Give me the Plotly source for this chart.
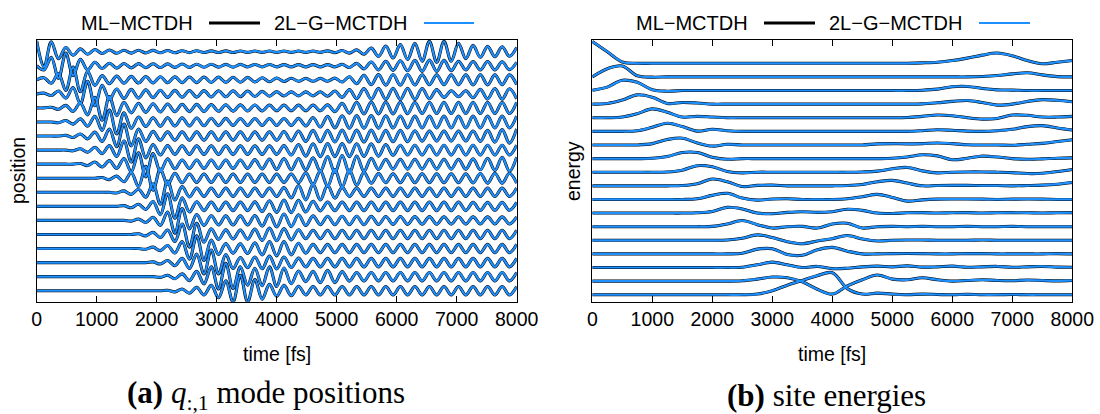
import numpy as np
import plotly.graph_objects as go

# ---------------- data ----------------
# (a) q_{:,1} mode positions: 18 traces, values in units of the line spacing,
# sampled at the oscillation extrema (every ~121 fs)
time_a = np.linspace(0, 8000, 67)
time_b = np.linspace(0, 8000, 33)

pos_00 = [0.76, -1.1, 0.7, -0.5, 0.3, -0.25, 0.2, -0.18, 0.15, -0.13,
          0.12, -0.11, 0.1, -0.1, 0.1, -0.09, 0.09, -0.08, 0.08, -0.08,
          0.07, -0.07, 0.07, -0.06, 0.06, -0.06, 0.06, -0.06, 0.05, -0.05,
          0.05, -0.05, 0.05, -0.05, 0.05, -0.05, 0.05, -0.05, 0.05, -0.05,
          0.06, -0.07, 0.08, -0.1, 0.13, -0.18, 0.25, -0.33, 0.4, -0.45,
          0.5, -0.55, 0.6, -0.68, 0.74, -0.76, 0.74, -0.68, 0.6, -0.5,
          0.45, -0.4, 0.38, -0.36, 0.35, -0.33, 0.3]
pos_01 = [0, -0.3, 0.6, -0.9, 0.9, -0.7, 0.45, -0.3, 0.25, -0.2,
          0.18, -0.17, 0.16, -0.15, 0.15, -0.14, 0.14, -0.13, 0.13, -0.12,
          0.12, -0.12, 0.11, -0.11, 0.11, -0.1, 0.1, -0.1, 0.1, -0.09,
          0.09, -0.09, 0.09, -0.08, 0.08, -0.08, 0.08, -0.08, 0.08, -0.08,
          0.08, -0.08, 0.1, -0.13, 0.17, -0.22, 0.27, -0.3, 0.32, -0.33,
          0.35, -0.36, 0.38, -0.4, 0.4, -0.4, 0.38, -0.35, 0.32, -0.3,
          0.3, -0.3, 0.3, -0.3, 0.28, -0.28, 0.25]
pos_02 = [0, 0.15, -0.25, 0.45, -0.75, 0.9, -0.85, 0.6, -0.4, 0.3,
          -0.28, 0.26, -0.25, 0.24, -0.23, 0.23, -0.22, 0.22, -0.21, 0.21,
          -0.2, 0.2, -0.2, 0.2, -0.19, 0.19, -0.18, 0.18, -0.17, 0.17,
          -0.16, 0.15, -0.14, 0.13, -0.12, 0.11, -0.1, 0.1, -0.1, 0.1,
          -0.1, 0.12, -0.16, 0.22, -0.28, 0.32, -0.35, 0.37, -0.38, 0.38,
          -0.38, 0.38, -0.37, 0.36, -0.35, 0.35, -0.35, 0.35, -0.35, 0.35,
          -0.36, 0.36, -0.36, 0.35, -0.35, 0.35, -0.34]
pos_03 = [0, 0.05, -0.12, 0.2, -0.3, 0.45, -0.7, 0.9, -0.85, 0.6,
          -0.4, 0.35, -0.33, 0.32, -0.3, 0.28, -0.27, 0.26, -0.25, 0.25,
          -0.24, 0.24, -0.23, 0.23, -0.22, 0.22, -0.21, 0.21, -0.2, 0.2,
          -0.19, 0.18, -0.17, 0.16, -0.15, 0.14, -0.14, 0.14, -0.14, 0.15,
          -0.17, 0.2, -0.25, 0.3, -0.34, 0.37, -0.38, 0.39, -0.4, 0.4,
          -0.4, 0.4, -0.4, 0.38, -0.35, 0.3, -0.25, 0.22, -0.2, 0.22,
          -0.27, 0.32, -0.36, 0.38, -0.38, 0.36, -0.35]
pos_04 = [0, 0, 0.05, -0.1, 0.18, -0.25, 0.35, -0.5, 0.75, -0.88,
          0.8, -0.55, 0.4, -0.35, 0.33, -0.32, 0.3, -0.29, 0.28, -0.27,
          0.26, -0.26, 0.25, -0.25, 0.24, -0.24, 0.23, -0.23, 0.22, -0.22,
          0.21, -0.21, 0.2, -0.2, 0.2, -0.2, 0.2, -0.2, 0.2, -0.2,
          0.22, -0.26, 0.32, -0.37, 0.4, -0.42, 0.42, -0.42, 0.42, -0.42,
          0.42, -0.41, 0.4, -0.4, 0.4, -0.4, 0.4, -0.4, 0.4, -0.4,
          0.4, -0.4, 0.4, -0.4, 0.4, -0.4, 0.4]
pos_05 = [0, 0, 0, -0.05, 0.1, -0.15, 0.22, -0.3, 0.4, -0.6,
          0.85, -0.85, 0.65, -0.45, 0.35, -0.32, 0.3, -0.3, 0.3, -0.29,
          0.29, -0.28, 0.28, -0.27, 0.27, -0.26, 0.26, -0.25, 0.25, -0.25,
          0.25, -0.25, 0.25, -0.25, 0.25, -0.25, 0.26, -0.28, 0.32, -0.36,
          0.4, -0.42, 0.44, -0.45, 0.45, -0.45, 0.45, -0.44, 0.44, -0.43,
          0.43, -0.42, 0.42, -0.42, 0.42, -0.42, 0.42, -0.42, 0.42, -0.42,
          0.42, -0.42, 0.42, -0.42, 0.42, -0.42, 0.42]
pos_06 = [0, 0, 0, 0, 0.05, -0.1, 0.15, -0.2, 0.28, -0.38,
          0.5, -0.75, 0.85, -0.7, 0.5, -0.38, 0.33, -0.3, 0.3, -0.3,
          0.3, -0.3, 0.3, -0.3, 0.3, -0.3, 0.3, -0.3, 0.3, -0.3,
          0.3, -0.3, 0.3, -0.3, 0.32, -0.34, 0.36, -0.38, 0.4, -0.4,
          0.4, -0.42, 0.42, -0.42, 0.42, -0.42, 0.42, -0.4, 0.4, -0.4,
          0.4, -0.4, 0.38, -0.36, 0.35, -0.35, 0.35, -0.35, 0.35, -0.35,
          0.36, -0.38, 0.4, -0.43, 0.46, -0.5, 0.5]
pos_07 = [0, 0, 0, 0, 0, -0.05, 0.1, -0.15, 0.2, -0.25,
          0.32, -0.45, 0.65, -0.85, 0.8, -0.55, 0.4, -0.35, 0.32, -0.3,
          0.3, -0.3, 0.3, -0.3, 0.3, -0.3, 0.3, -0.3, 0.3, -0.3,
          0.3, -0.3, 0.3, -0.3, 0.32, -0.35, 0.4, -0.43, 0.45, -0.46,
          0.46, -0.46, 0.46, -0.46, 0.45, -0.45, 0.44, -0.43, 0.4, -0.37,
          0.35, -0.35, 0.35, -0.35, 0.35, -0.35, 0.35, -0.35, 0.35, -0.35,
          0.35, -0.35, 0.35, -0.35, 0.35, -0.35, 0.35]
pos_08 = [0, 0, 0, 0, 0, 0, 0.05, -0.1, 0.15, -0.2,
          0.25, -0.3, 0.4, -0.55, 0.8, -0.9, 0.75, -0.5, 0.38, -0.33,
          0.3, -0.3, 0.3, -0.3, 0.3, -0.3, 0.3, -0.3, 0.3, -0.3,
          0.32, -0.34, 0.36, -0.38, 0.4, -0.4, 0.4, -0.42, 0.45, -0.5,
          0.55, -0.6, 0.62, -0.62, 0.58, -0.5, 0.42, -0.38, 0.35, -0.35,
          0.35, -0.35, 0.35, -0.35, 0.35, -0.35, 0.35, -0.35, 0.35, -0.36,
          0.38, -0.4, 0.42, -0.45, 0.48, -0.5, 0.5]
pos_09 = [0, 0, 0, 0, 0, 0, 0, 0, 0, 0.05,
          -0.1, 0.15, -0.25, 0.4, -0.6, 0.85, -0.85, 0.65, -0.45, 0.35,
          -0.32, 0.3, -0.3, 0.3, -0.3, 0.3, -0.3, 0.3, -0.3, 0.3,
          -0.3, 0.3, -0.3, 0.3, -0.3, 0.3, -0.32, 0.38, -0.45, 0.52,
          -0.58, 0.62, -0.62, 0.58, -0.5, 0.42, -0.36, 0.33, -0.32, 0.32,
          -0.32, 0.32, -0.32, 0.32, -0.32, 0.32, -0.32, 0.32, -0.32, 0.32,
          -0.33, 0.34, -0.35, 0.35, -0.35, 0.35, -0.35]
pos_10 = [0, 0, 0, 0, 0, 0, 0, 0, 0, 0,
          0, -0.05, 0.1, -0.15, 0.22, -0.35, 0.6, -0.85, 0.8, -0.55,
          0.4, -0.33, 0.3, -0.3, 0.3, -0.3, 0.3, -0.3, 0.3, -0.3,
          0.3, -0.3, 0.3, -0.3, 0.33, -0.4, 0.48, -0.54, 0.56, -0.55,
          0.5, -0.42, 0.35, -0.3, 0.3, -0.3, 0.3, -0.3, 0.3, -0.3,
          0.3, -0.3, 0.3, -0.3, 0.3, -0.3, 0.3, -0.3, 0.3, -0.3,
          0.3, -0.3, 0.3, -0.3, 0.3, -0.3, 0.3]
pos_11 = [0, 0, 0, 0, 0, 0, 0, 0, 0, 0,
          0, 0, 0.05, -0.1, 0.15, -0.22, 0.35, -0.6, 0.9, -0.85,
          0.6, -0.4, 0.33, -0.3, 0.3, -0.3, 0.3, -0.3, 0.3, -0.3,
          0.32, -0.36, 0.4, -0.43, 0.45, -0.45, 0.43, -0.4, 0.36, -0.32,
          0.3, -0.3, 0.3, -0.3, 0.3, -0.3, 0.3, -0.3, 0.3, -0.3,
          0.3, -0.3, 0.3, -0.3, 0.3, -0.3, 0.3, -0.3, 0.3, -0.3,
          0.28, -0.28, 0.28, -0.28, 0.28, -0.28, 0.28]
pos_12 = [0, 0, 0, 0, 0, 0, 0, 0, 0, 0,
          0, 0, 0, -0.05, 0.1, -0.15, 0.22, -0.35, 0.6, -0.9,
          0.85, -0.6, 0.42, -0.35, 0.33, -0.32, 0.32, -0.32, 0.32, -0.32,
          0.35, -0.4, 0.44, -0.46, 0.46, -0.44, 0.4, -0.36, 0.32, -0.3,
          0.3, -0.3, 0.3, -0.3, 0.3, -0.3, 0.29, -0.29, 0.28, -0.28,
          0.28, -0.28, 0.27, -0.27, 0.27, -0.27, 0.26, -0.26, 0.26, -0.26,
          0.25, -0.25, 0.25, -0.25, 0.25, -0.25, 0.25]
pos_13 = [0, 0, 0, 0, 0, 0, 0, 0, 0, 0,
          0, 0, 0, 0, 0.05, -0.1, 0.15, -0.22, 0.32, -0.5,
          0.75, -0.9, 0.8, -0.55, 0.4, -0.35, 0.33, -0.32, 0.32, -0.34,
          0.38, -0.42, 0.45, -0.45, 0.42, -0.38, 0.34, -0.3, 0.3, -0.3,
          0.3, -0.3, 0.3, -0.3, 0.3, -0.3, 0.3, -0.3, 0.3, -0.3,
          0.3, -0.3, 0.3, -0.3, 0.3, -0.3, 0.3, -0.3, 0.3, -0.3,
          0.3, -0.3, 0.3, -0.3, 0.3, -0.3, 0.3]
pos_14 = [0, 0, 0, 0, 0, 0, 0, 0, 0, 0,
          0, 0, 0, 0, 0, -0.05, 0.1, -0.15, 0.22, -0.32,
          0.5, -0.75, 0.9, -0.85, 0.6, -0.42, 0.35, -0.33, 0.33, -0.35,
          0.4, -0.45, 0.5, -0.52, 0.5, -0.45, 0.38, -0.33, 0.3, -0.3,
          0.3, -0.3, 0.3, -0.3, 0.3, -0.3, 0.3, -0.3, 0.3, -0.3,
          0.3, -0.3, 0.3, -0.3, 0.3, -0.3, 0.3, -0.3, 0.3, -0.3,
          0.3, -0.3, 0.3, -0.3, 0.3, -0.3, 0.3]
pos_15 = [0, 0, 0, 0, 0, 0, 0, 0, 0, 0,
          0, 0, 0, 0, 0, 0, 0.05, -0.1, 0.15, -0.22,
          0.3, -0.42, 0.6, -0.8, 0.9, -0.8, 0.58, -0.42, 0.36, -0.36,
          0.4, -0.44, 0.46, -0.45, 0.4, -0.35, 0.32, -0.3, 0.3, -0.3,
          0.3, -0.3, 0.3, -0.3, 0.3, -0.3, 0.3, -0.3, 0.3, -0.3,
          0.3, -0.3, 0.3, -0.3, 0.3, -0.3, 0.3, -0.3, 0.3, -0.3,
          0.3, -0.3, 0.3, -0.3, 0.3, -0.3, 0.3]
pos_16 = [0, 0, 0, 0, 0, 0, 0, 0, 0, 0,
          0, 0, 0, 0, 0, 0, 0, -0.05, 0.1, -0.15,
          0.2, -0.28, 0.38, -0.52, 0.7, -0.88, 0.95, -0.85, 0.7, -0.6,
          0.6, -0.65, 0.7, -0.7, 0.62, -0.5, 0.4, -0.35, 0.38, -0.42,
          0.45, -0.42, 0.36, -0.32, 0.3, -0.3, 0.3, -0.3, 0.3, -0.3,
          0.3, -0.3, 0.3, -0.3, 0.3, -0.3, 0.3, -0.3, 0.3, -0.3,
          0.3, -0.3, 0.3, -0.3, 0.3, -0.3, 0.3]
pos_17 = [0, 0, 0, 0, 0, 0, 0, 0, 0, 0,
          0, 0, 0, 0, 0, 0, 0, 0, 0.03, -0.08,
          0.12, -0.18, 0.24, -0.3, 0.38, -0.5, 0.7, -0.8, 1.1, -0.8,
          0.8, -0.6, 0.45, -0.4, 0.38, -0.35, 0.32, -0.3, 0.3, -0.3,
          0.3, -0.3, 0.3, -0.3, 0.3, -0.3, 0.3, -0.3, 0.3, -0.3,
          0.3, -0.3, 0.3, -0.3, 0.3, -0.3, 0.3, -0.3, 0.3, -0.3,
          0.3, -0.3, 0.3, -0.3, 0.3, -0.3, 0.3]

# (b) site energies: 18 traces sampled every 250 fs
en_00 = [1.6, 0.85, 0.1, 0, 0, 0, 0, 0, 0, 0, 0, 0, 0, 0, 0, 0, 0, 0, 0, 0, 0, 0,
         0.03, 0.08, 0.2, 0.38, 0.6, 0.75, 0.55, 0.2, -0.03, 0.08, 0.2]
en_01 = [0, 0.6, 0.8, 0.08, -0.02, 0, 0, 0, 0, 0, 0, 0, 0, 0, 0, 0, 0, 0, 0, 0, 0, 0, 0, 0, 0, 0,
         0.03, 0.1, 0.22, 0.3, 0.15, 0.02, 0]
en_02 = [0.02, 0.25, 0.75, 0.6, 0.05, -0.05, 0, 0, 0, 0, 0, 0, 0, 0, 0, 0, 0, 0, 0, 0, 0, 0,
         0.02, 0.1, 0.28, 0.3, 0.15, 0.05, 0.03, 0, 0, 0, 0]
en_03 = [0, 0.05, 0.3, 0.68, 0.5, 0.05, 0.12, 0.08, 0, 0, 0, 0, 0, 0, 0, 0, 0, 0, 0, 0, 0, 0,
         0.02, 0.1, 0.2, 0.27, 0.12, -0.07, 0, 0.2, 0.33, 0.28, 0.17]
en_04 = [0, 0, 0.05, 0.3, 0.65, 0.4, 0.05, 0.1, 0.05, 0, 0, 0, 0, 0, 0, 0, 0, 0, 0, 0, 0,
         0.02, 0.1, 0.2, 0.15, 0.0, -0.1, -0.05, 0.2, 0.18, 0.05, 0.05, 0.1]
en_05 = [0, 0, 0, 0.05, 0.3, 0.6, 0.35, 0.02, 0.15, 0.05, 0, 0, 0, 0, 0, 0, 0, 0, 0, 0, 0, 0,
         0.05, 0.12, 0.08, 0.02, 0, 0.05, 0.15, 0.35, 0.42, 0.25, 0.1]
en_06 = [0, 0, 0, 0, 0.1, 0.4, 0.5, 0.15, -0.08, 0.05, 0, 0, 0, 0, 0, 0, 0, 0, 0,
         0.08, 0.1, 0.08, 0.1, 0.15, 0.1, 0.02, 0, 0, -0.02, 0.05, 0.12, 0.25, 0.38]
en_07 = [0, 0, 0, 0, 0.02, 0.15, 0.45, 0.45, 0.1, -0.05, 0, 0, 0, 0, 0, 0, 0, 0, 0, 0,
         0.02, 0.12, 0.28, 0.2, -0.08, 0.02, 0.18, 0.12, 0, -0.05, -0.02, 0.03, 0.05]
en_08 = [0, 0, 0, 0, 0, 0.02, 0.15, 0.48, 0.4, 0.05, -0.05, 0, 0, 0, 0, 0, 0, 0,
         0.02, 0.08, 0.25, 0.35, 0.1, -0.05, 0, 0.02, 0.02, 0, -0.03, -0.1, -0.08, 0.05, 0.2]
en_09 = [0, 0, 0, 0, 0, 0, 0.02, 0.15, 0.5, 0.3, -0.05, 0.03, 0.05, 0, 0, 0, 0,
         0.02, 0.1, 0.3, 0.4, 0.2, 0.0, 0.02, 0.03, 0.03, 0.02, 0.02, 0.0, 0.02, 0.05, 0.12, 0.25]
en_10 = [0, 0, 0, 0, 0, 0, 0, 0.05, 0.3, 0.45, 0.1, -0.05, 0.03, 0.05, 0, 0, 0,
         0.05, 0.2, 0.37, 0.15, -0.12, -0.03, 0.02, 0.03, 0.03, 0.02, 0, 0.02, 0.03, 0.02, 0, 0]
en_11 = [0, 0, 0, 0, 0, 0, 0, 0.02, 0.12, 0.42, 0.3, 0, -0.05, 0.05, 0.1, 0.05, 0.1,
         0.28, 0.2, 0, -0.03, 0.02, 0.03, 0, 0.02, 0.03, 0, 0.02, 0.03, 0.02, 0, 0.02, 0.03]
en_12 = [0, 0, 0, 0, 0, 0, 0, 0, 0.02, 0.2, 0.45, 0.15, -0.1, 0, 0.02, -0.1, 0.2,
         0.25, -0.1, 0, 0.02, 0, 0.02, 0, 0, 0.02, 0, 0, 0.02, 0, 0, 0, 0]
en_13 = [0, 0, 0, 0, 0, 0, 0, 0, 0, 0.02, 0.15, 0.4, 0.2, -0.1, -0.25, -0.05, 0.12,
         0.35, 0.1, -0.05, 0, 0.02, 0.02, 0, 0, 0, 0.02, 0, 0, 0, 0, 0, 0]
en_14 = [0, 0, 0, 0, 0, 0, 0, 0, 0, 0, 0.05, 0.35, 0.38, -0.05, -0.1, 0.3, 0.48,
         0.2, 0, 0, 0.02, 0.03, 0.02, 0, 0, 0.02, 0.02, 0, 0, 0, 0, 0.02, 0]
en_15 = [0, 0, 0, 0, 0, 0, 0, 0, 0, 0, 0.02, 0.2, 0.4, 0.2, 0, 0.08, -0.08,
         -0.05, 0.05, 0.1, 0.05, 0.12, 0.03, 0.05, 0.1, 0.02, 0.05, 0.08, 0.02, 0.05, 0.08, 0.03, 0.02]
en_16 = [0, 0, 0, 0, 0, 0, 0, 0, 0, 0, 0.03, 0.15, 0.3, 0.25, -0.05, -0.6, -0.95,
         -0.35, 0.1, 0.45, 0.15, 0.1, 0.25, 0.1, 0, 0.05, 0.1, 0.05, 0.03, 0.08, 0.05, 0.02, 0.05]
en_17 = [0, 0, 0, 0, 0, 0, 0, 0, 0, 0, 0, 0.05, 0.3, 0.7, 1.05, 1.4, 1.62,
         0.45, 0.05, 0.12, 0.05, 0, 0.05, 0.02, 0, 0.03, 0, 0, 0.02, 0, 0, 0, 0]

positions = [pos_00, pos_01, pos_02, pos_03, pos_04, pos_05, pos_06, pos_07, pos_08,
             pos_09, pos_10, pos_11, pos_12, pos_13, pos_14, pos_15, pos_16, pos_17]
energies = [en_00, en_01, en_02, en_03, en_04, en_05, en_06, en_07, en_08,
            en_09, en_10, en_11, en_12, en_13, en_14, en_15, en_16, en_17]

x_ticks = [0, 1000, 2000, 3000, 4000, 5000, 6000, 7000, 8000]
series_names = ["ML\u2212MCTDH", "2L\u2212G\u2212MCTDH"]
series_colors = ["#000000", "#1e90ff"]
series_widths = [3.1, 2.2]

# ---------------- figure ----------------
W, H = 1100, 414
SANS = "Liberation Sans, Arial, sans-serif"
SERIF = "Liberation Serif, Times New Roman, serif"
FS = 19.5

fig = go.Figure()
for s in range(2):
    for k, vals in enumerate(positions):
        fig.add_trace(go.Scatter(
            x=time_a, y=np.array(vals, dtype=float) - k, mode="lines",
            line=dict(color=series_colors[s], width=series_widths[s], shape="spline", smoothing=1.0),
            xaxis="x", yaxis="y", hoverinfo="skip", showlegend=False, name=series_names[s]))
for s in range(2):
    for k, vals in enumerate(energies):
        fig.add_trace(go.Scatter(
            x=time_b, y=np.array(vals, dtype=float) - k, mode="lines",
            line=dict(color=series_colors[s], width=series_widths[s], shape="spline", smoothing=1.0),
            xaxis="x2", yaxis="y2", hoverinfo="skip", showlegend=False, name=series_names[s]))

def px(x):
    return x / W

def py(y):
    return 1 - y / H

ydom = [py(301.7), py(40)]
xcommon = dict(range=[0, 8000], tickvals=x_ticks, ticktext=[str(v) for v in x_ticks],
               ticks="inside", ticklen=6, tickwidth=1, tickcolor="black",
               showline=True, linecolor="black", linewidth=1.4, mirror="ticks",
               automargin=False,
               showgrid=False, zeroline=False, tickfont=dict(family=SANS, size=FS, color="black"))
ycommon = dict(showticklabels=False, ticks="", showline=True, linecolor="black",
               linewidth=1.4, mirror=True, showgrid=False, zeroline=False, automargin=False)

fig.update_layout(
    width=W, height=H, margin=dict(l=0, r=0, t=0, b=0, autoexpand=False),
    paper_bgcolor="white", plot_bgcolor="white", showlegend=False,
    xaxis=dict(domain=[px(36.7), px(516.7)], anchor="y", **xcommon),
    yaxis=dict(domain=ydom, anchor="x", range=[-17.78, 0.83], **ycommon),
    xaxis2=dict(domain=[px(592.3), px(1072.3)], anchor="y2", **xcommon),
    yaxis2=dict(domain=ydom, anchor="x2", range=[-17.51, 1.71], **ycommon),
)

ann = []
shapes = []
# legends (gnuplot style: text then sample line)
for (t1_end, l1, t2_end, l2) in [(195, (209, 260), 409, (424, 474)),
                                 (750, (764, 815), 964, (979, 1030))]:
    ann.append(dict(x=px(t1_end), y=py(23), xref="paper", yref="paper", text=series_names[0],
                    showarrow=False, xanchor="right", yanchor="middle",
                    font=dict(family=SANS, size=20, color="black")))
    ann.append(dict(x=px(t2_end), y=py(23), xref="paper", yref="paper", text=series_names[1],
                    showarrow=False, xanchor="right", yanchor="middle",
                    font=dict(family=SANS, size=20, color="black")))
    shapes.append(dict(type="line", xref="paper", yref="paper", x0=px(l1[0]), x1=px(l1[1]),
                       y0=py(23), y1=py(23), line=dict(color=series_colors[0], width=3)))
    shapes.append(dict(type="line", xref="paper", yref="paper", x0=px(l2[0]), x1=px(l2[1]),
                       y0=py(23), y1=py(23), line=dict(color=series_colors[1], width=2.2)))

# axis titles
ann.append(dict(x=px(276.7), y=py(354), xref="paper", yref="paper", text="time [fs]",
                showarrow=False, xanchor="center", yanchor="middle",
                font=dict(family=SANS, size=FS, color="black")))
ann.append(dict(x=px(832.3), y=py(354), xref="paper", yref="paper", text="time [fs]",
                showarrow=False, xanchor="center", yanchor="middle",
                font=dict(family=SANS, size=FS, color="black")))
ann.append(dict(x=px(18), y=py(171), xref="paper", yref="paper", text="position",
                showarrow=False, xanchor="center", yanchor="middle", textangle=-90,
                font=dict(family=SANS, size=FS, color="black")))
ann.append(dict(x=px(573), y=py(171), xref="paper", yref="paper", text="energy",
                showarrow=False, xanchor="center", yanchor="middle", textangle=-90,
                font=dict(family=SANS, size=FS, color="black")))
# captions
ann.append(dict(x=px(266), y=py(395), xref="paper", yref="paper",
                text="<b>(a)</b> <i>q</i><sub>:,1</sub> mode positions",
                showarrow=False, xanchor="center", yanchor="middle",
                font=dict(family=SERIF, size=31, color="black")))
ann.append(dict(x=px(826), y=py(395), xref="paper", yref="paper",
                text="<b>(b)</b> site energies",
                showarrow=False, xanchor="center", yanchor="middle",
                font=dict(family=SERIF, size=31, color="black")))

fig.update_layout(annotations=ann, shapes=shapes)
fig.write_html("out.html")
